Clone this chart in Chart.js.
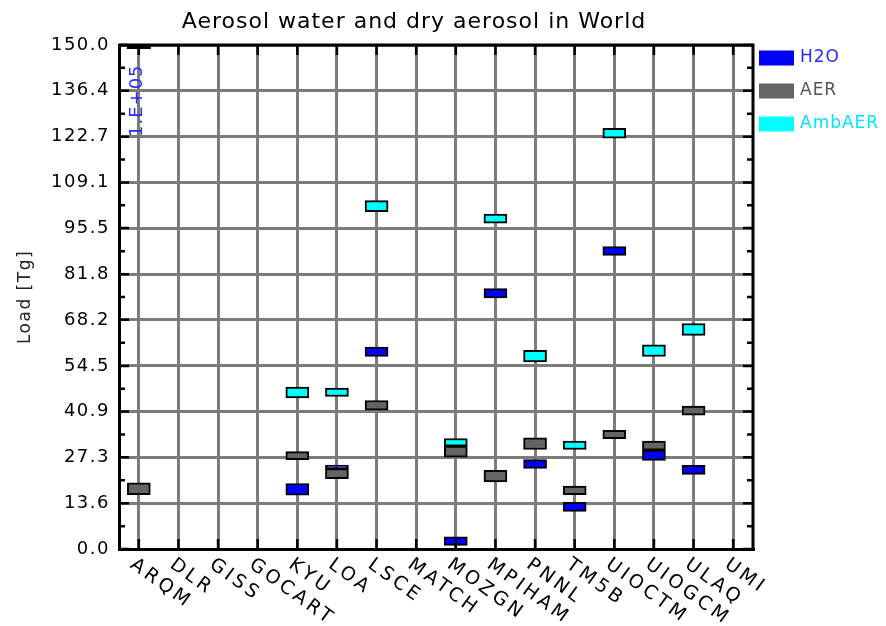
<!DOCTYPE html>
<html>
<head>
<meta charset="utf-8">
<title>Aerosol water and dry aerosol in World</title>
<script src="https://cdn.jsdelivr.net/npm/chart.js@4/dist/chart.umd.min.js"></script>
<style>
body{margin:0;background:#fff}
canvas{display:block}
</style>
</head>
<body>
<canvas id="myChart" width="886" height="626"></canvas>
<script>
// models on the x axis
const categories = ['ARQM','DLR','GISS','GOCART','KYU','LOA','LSCE','MATCH','MOZGN','MPIHAM','PNNL','TM5B','UIOCTM','UIOGCM','ULAQ','UMI'];
const yTickLabels = ['0.0','13.6','27.3','40.9','54.5','68.2','81.8','95.5','109.1','122.7','136.4','150.0'];

// each box is [low, high] in Tg, null = no value
const h2oLoad = [[1e5,1e5], null, null, null, [16.0,19.5], [23.9,25.0], [57.3,60.1], null, [1.1,3.6], [74.7,77.5], [24.0,26.6], [11.2,13.9], [87.4,90.0], [26.4,29.4], [22.2,24.9], null];
const aerLoad = [[16.2,19.7], null, null, null, [26.6,29.0], [20.9,23.9], [41.3,44.2], null, [27.3,30.6], [20.0,23.4], [29.6,33.1], [16.2,18.7], [32.8,35.3], [29.4,32.1], [39.8,42.5], null];
const ambAerLoad = [null, null, null, null, [45.0,48.2], [45.4,47.9], [100.4,103.7], null, [30.6,32.9], [97.0,99.7], [55.7,59.1], [29.6,32.1], [122.3,125.2], [57.3,60.8], [63.6,67.1], null];

const seriesNames = ['H2O','AER','AmbAER'];
const seriesColors = ['#0000ff','#646464','#00ffff'];
const legendTextColors = ['#2a2aff','#555555','#00e6ff'];

const chartTitle = 'Aerosol water and dry aerosol in World';
const FONT = 'DejaVu Sans';

function expLabel(v){
    // 100000 -> "1.E+05"
    let e = Math.floor(Math.log10(v));
    let m = Math.round(v/Math.pow(10,e));
    return m+'.E+'+String(e).padStart(2,'0');
}

const frame = {
    id:'frame',
    beforeDraw(chart){
        chart.ctx.letterSpacing='1.5px';
    },
    afterDraw(chart){
        const ctx=chart.ctx, a=chart.chartArea, xs=chart.scales.x, ys=chart.scales.y;
        ctx.save();
        // title
        ctx.font='22px "'+FONT+'"';
        ctx.letterSpacing='1px';
        ctx.fillStyle='#000';
        ctx.textAlign='center';
        ctx.textBaseline='middle';
        ctx.fillText(chartTitle,414,22);

        ctx.strokeStyle='#000';
        ctx.lineWidth=3;
        // top and right border
        ctx.beginPath();
        ctx.moveTo(a.left,a.top); ctx.lineTo(a.right,a.top); ctx.lineTo(a.right,a.bottom);
        ctx.stroke();
        ctx.lineWidth=2.5;
        // y ticks, major and minor, on both sides
        ctx.beginPath();
        for(let i=0;i<yTickLabels.length;i++){
            let v=parseFloat(yTickLabels[i]);
            let py=ys.getPixelForValue(v);
            ctx.moveTo(a.left,py); ctx.lineTo(a.left+10,py);
            ctx.moveTo(a.right,py); ctx.lineTo(a.right-10,py);
            if(i<yTickLabels.length-1){
                let mv=(v+parseFloat(yTickLabels[i+1]))/2;
                let my=ys.getPixelForValue(mv);
                ctx.moveTo(a.left,my); ctx.lineTo(a.left+6,my);
                ctx.moveTo(a.right,my); ctx.lineTo(a.right-6,my);
            }
        }
        // x ticks top and bottom
        categories.forEach((c,i)=>{
            let px=xs.getPixelForValue(i);
            ctx.moveTo(px,a.bottom); ctx.lineTo(px,a.bottom-10);
            ctx.moveTo(px,a.top); ctx.lineTo(px,a.top+10);
        });
        ctx.stroke();

        // off-scale values
        chart.data.datasets.forEach((ds,di)=>{
            ds.data.forEach((d,i)=>{
                if(d && d[0]>ys.max){
                    let px=xs.getPixelForValue(i);
                    ctx.fillStyle='#000';
                    ctx.fillRect(px-12,a.top-1,24,5);
                    ctx.save();
                    ctx.translate(px-1,a.top+92);
                    ctx.rotate(-Math.PI/2);
                    ctx.font='18px "'+FONT+'"';
                    ctx.letterSpacing='1px';
                    ctx.fillStyle=legendTextColors[di];
                    ctx.textAlign='left';
                    ctx.textBaseline='middle';
                    ctx.fillText(expLabel(d[0]),0,0);
                    ctx.restore();
                }
            });
        });

        // rotated category labels
        ctx.font='19px "'+FONT+'"';
        ctx.letterSpacing='3.5px';
        ctx.fillStyle='#000';
        ctx.textAlign='left';
        ctx.textBaseline='top';
        categories.forEach((c,i)=>{
            let px=xs.getPixelForValue(i);
            ctx.save();
            ctx.translate(px-1,a.bottom+6);
            ctx.rotate(36*Math.PI/180);
            ctx.fillText(c,0,0);
            ctx.restore();
        });

        // legend
        ctx.letterSpacing='1px';
        ctx.font='17px "'+FONT+'"';
        ctx.textAlign='left';
        ctx.textBaseline='middle';
        seriesNames.forEach((n,i)=>{
            let y=a.top+13+i*33;
            ctx.fillStyle=seriesColors[i];
            ctx.fillRect(a.right+6,y-7.5,35,15);
            ctx.fillStyle=legendTextColors[i];
            ctx.fillText(n,a.right+47,y);
        });
        ctx.restore();
    }
};

const seriesData=[h2oLoad,aerLoad,ambAerLoad];

new Chart(document.getElementById('myChart').getContext('2d'),{
    type:'bar',
    data:{
        labels:categories,
        datasets:seriesNames.map((n,i)=>({
            label:n,
            data:seriesData[i],
            backgroundColor:seriesColors[i],
            borderColor:'#000',
            borderWidth:2,
            borderSkipped:false,
            barThickness:23,
            grouped:false
        }))
    },
    options:{
        responsive:false,
        animation:false,
        layout:{padding:{left:0,right:133,top:45,bottom:0}},
        plugins:{
            legend:{display:false},
            tooltip:{enabled:false},
            title:{display:false}
        },
        scales:{
            x:{
                offset:true,
                afterFit:s=>{s.height=77},
                ticks:{display:false},
                grid:{offset:false,color:'#7c7c7c',lineWidth:3,drawTicks:false},
                border:{color:'#000',width:3}
            },
            y:{
                min:0,max:150,
                afterBuildTicks:s=>{s.ticks=yTickLabels.map(t=>({value:parseFloat(t)}))},
                afterFit:s=>{s.width=119},
                ticks:{
                    callback:(v,i)=>yTickLabels[i],
                    font:{family:FONT,size:18},
                    color:'#000',
                    padding:9
                },
                grid:{color:'#7c7c7c',lineWidth:3,drawTicks:false},
                border:{color:'#000',width:3},
                title:{
                    display:true,
                    text:'Load [Tg]',
                    font:{family:FONT,size:17},
                    color:'#222',
                    padding:{top:15,bottom:0}
                }
            }
        }
    },
    plugins:[frame]
});
</script>
</body>
</html>
